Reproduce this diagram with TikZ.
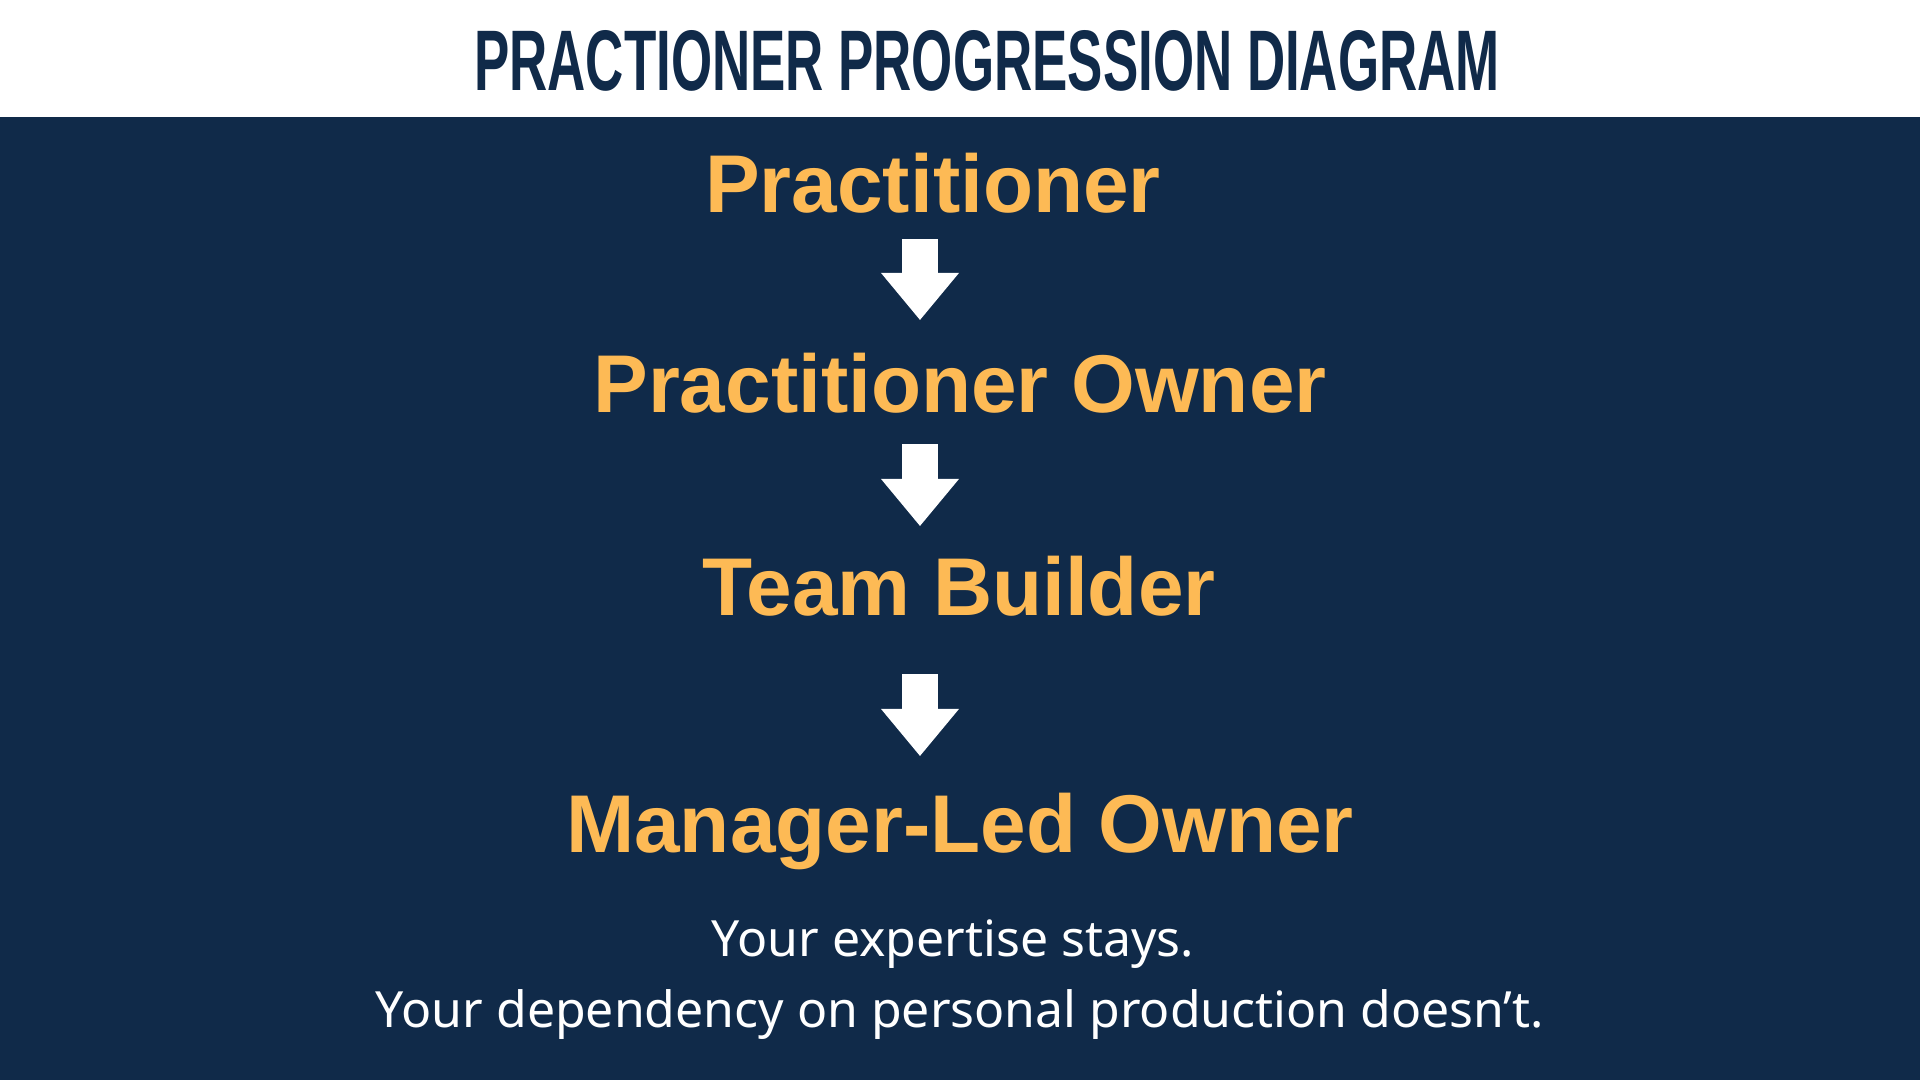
\documentclass[tikz,border=0pt]{standalone}
\usepackage{fontspec}
\setmainfont{Liberation Sans}
\newfontfamily\notefont{Noto Sans}
\usetikzlibrary{arrows.meta}
\definecolor{navy}{RGB}{16,42,73}
\definecolor{gold}{RGB}{253,186,85}
\begin{document}
\begin{tikzpicture}[x=0.01cm,y=-0.01cm,
    stage/.style={anchor=base,text=gold,inner sep=0pt,font=\fontsize{23.3}{28}\selectfont\bfseries},
    note/.style={anchor=base,text=white,inner sep=0pt,font=\notefont\fontsize{14.2}{17}\selectfont},
    flow/.style={white,line width=0.36cm,-{Triangle[width=0.78cm,length=0.47cm,line width=0pt]}}]
    \useasboundingbox (0,0) rectangle (1920,1080);
    \fill[white] (0,0) rectangle (1920,117);
    \fill[navy] (0,117) rectangle (1920,1080);
    \node[anchor=base,text=navy,inner sep=0pt] (title) at (987,91) {\resizebox{10.25cm}{0.6cm}{\bfseries PRACTIONER PROGRESSION DIAGRAM}};
    \node[stage] (prac) at (933,213) {Practitioner};
    \node[stage] (owner) at (960,413) {Practitioner Owner};
    \node[stage] (team) at (959,616) {Team Builder};
    \node[stage] (led) at (960,853) {Manager-Led Owner};
    \node[note] (stay) at (953,957) {Your expertise stays.};
    \node[note] (dep) at (960,1028) {Your dependency on personal production doesn’t.};
    % arrows between the stages
    \coordinate (ax) at (920,0);
    \draw[flow,shorten <=0.26cm,shorten >=0.93cm] (prac.base -| ax) -- (owner.base -| ax);
    \draw[flow,shorten <=0.31cm,shorten >=0.90cm] (owner.base -| ax) -- (team.base -| ax);
    \draw[flow,shorten <=0.58cm,shorten >=0.97cm] (team.base -| ax) -- (led.base -| ax);
\end{tikzpicture}
\end{document}
